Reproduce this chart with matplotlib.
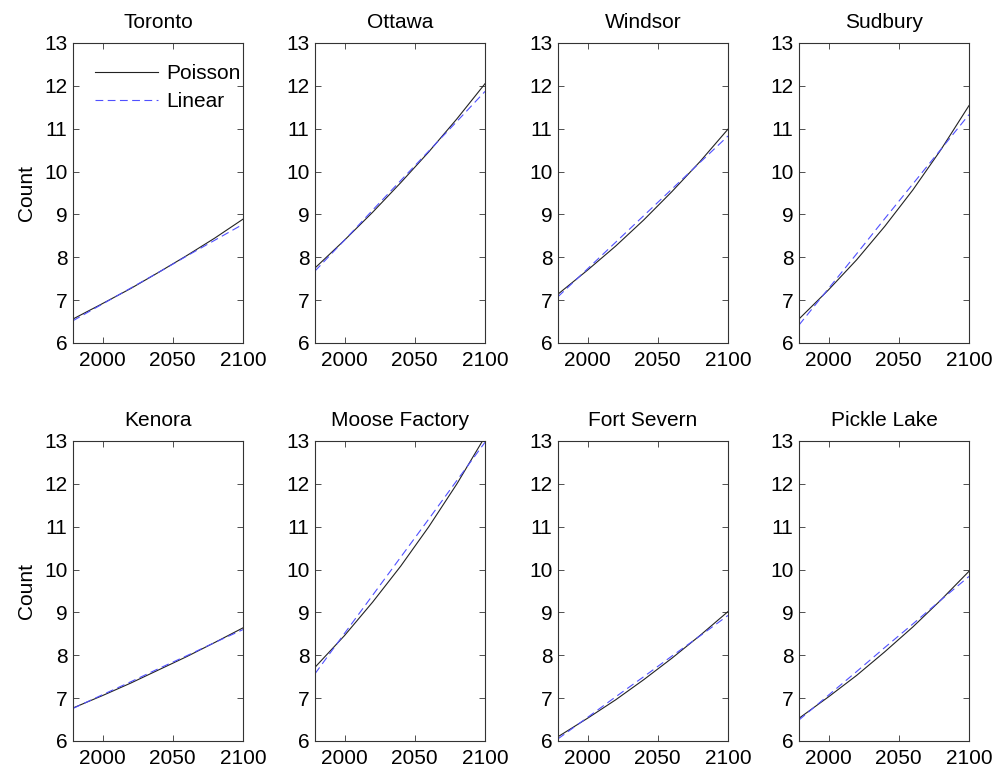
import numpy as np
import matplotlib.pyplot as plt

plt.rcParams['font.family'] = ['Liberation Sans', 'DejaVu Sans']

#------------- data -------------#
years = [1979, 2000, 2020, 2040, 2060, 2080, 2100]

stations = ['Toronto', 'Ottawa', 'Windsor', 'Sudbury',
            'Kenora', 'Moose Factory', 'Fort Severn', 'Pickle Lake']

toronto_poisson = [6.56, 6.92, 7.27, 7.65, 8.04, 8.45, 8.89]
toronto_linear = [6.52, 6.91, 7.28, 7.65, 8.03, 8.40, 8.77]

ottawa_poisson = [7.75, 8.40, 9.05, 9.74, 10.46, 11.23, 12.05]
ottawa_linear = [7.68, 8.40, 9.10, 9.79, 10.48, 11.17, 11.87]

windsor_poisson = [7.14, 7.70, 8.26, 8.87, 9.53, 10.23, 10.99]
windsor_linear = [7.08, 7.73, 8.35, 8.97, 9.59, 10.21, 10.83]

sudbury_poisson = [6.56, 7.24, 7.94, 8.72, 9.57, 10.51, 11.54]
sudbury_linear = [6.42, 7.27, 8.08, 8.90, 9.71, 10.52, 11.33]

kenora_poisson = [6.77, 7.06, 7.35, 7.66, 7.97, 8.30, 8.64]
kenora_linear = [6.76, 7.08, 7.38, 7.69, 7.99, 8.30, 8.60]

moose_poisson = [7.72, 8.46, 9.24, 10.08, 11.00, 12.00, 13.10]
moose_linear = [7.57, 8.51, 9.40, 10.29, 11.18, 12.08, 12.97]

severn_poisson = [6.10, 6.53, 6.96, 7.43, 7.93, 8.46, 9.02]
severn_linear = [6.05, 6.55, 7.03, 7.50, 7.98, 8.45, 8.93]

pickle_poisson = [6.53, 7.03, 7.53, 8.08, 8.66, 9.29, 9.96]
pickle_linear = [6.49, 7.07, 7.62, 8.18, 8.73, 9.29, 9.84]

poisson = [toronto_poisson, ottawa_poisson, windsor_poisson, sudbury_poisson,
           kenora_poisson, moose_poisson, severn_poisson, pickle_poisson]
linear = [toronto_linear, ottawa_linear, windsor_linear, sudbury_linear,
          kenora_linear, moose_linear, severn_linear, pickle_linear]

xticks = [2000, 2050, 2100]
yticks = [6, 7, 8, 9, 10, 11, 12, 13]

#------------- layout (pixels -> figure fractions) -------------#
W, H = 1003, 769
col_left = [73, 315, 558, 799]
ax_w = 170
row_top = [43, 441]
ax_h = 300

fig = plt.figure(figsize=(W / 100, H / 100), dpi=100)

FS = 15
for i, name in enumerate(stations):
    r, c = divmod(i, 4)
    ax = fig.add_axes([col_left[c] / W, 1 - (row_top[r] + ax_h) / H, ax_w / W, ax_h / H])

    ax.plot(years, poisson[i], color='#222222', lw=0.8, label='Poisson')
    ax.plot(years, linear[i], color='#5050ff', lw=0.8, dashes=(7, 4), label='Linear')

    ax.set_xlim(1979, 2100)
    ax.set_ylim(6, 13)
    ax.set_xticks(xticks)
    ax.set_yticks(yticks)
    ax.tick_params(direction='in', top=True, right=True, length=4, width=0.6,
                   labelsize=FS, color='#333333')
    ax.tick_params(axis='x', pad=6)
    ax.tick_params(axis='y', pad=4)
    for s in ax.spines.values():
        s.set_linewidth(0.8)
        s.set_color('#333333')
    ax.set_title(name, fontsize=FS, pad=11)

    if c == 0:
        ax.set_ylabel('Count', fontsize=FS, labelpad=6)

    if i == 0:
        ax.legend(loc='upper left', bbox_to_anchor=(0.13, 0.93), frameon=False,
                  fontsize=FS, handlelength=3.0, handletextpad=0.4,
                  borderpad=0, borderaxespad=0, labelspacing=0.45)

plt.savefig('out.png', dpi=100)
